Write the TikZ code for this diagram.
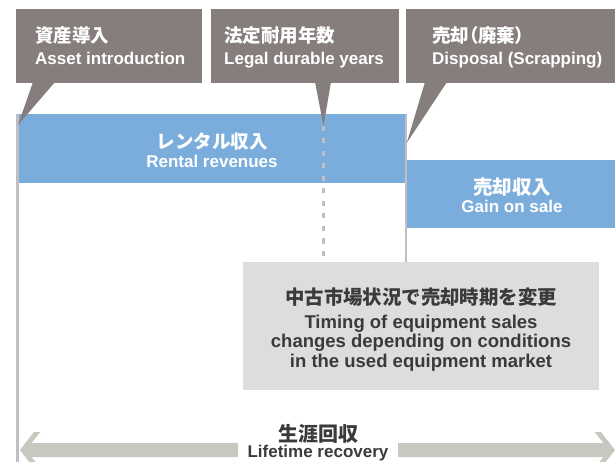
\documentclass[tikz,border=0pt]{standalone}
\usepackage{fontspec}
\setmainfont{Liberation Sans}
\newfontfamily\jp{Noto Sans CJK JP}
\newfontfamily\jpp{Noto Sans CJK JP}[RawFeature=+palt]
\definecolor{calloutgray}{RGB}{134,126,124}
\definecolor{barblue}{RGB}{122,173,219}
\definecolor{boxgray}{RGB}{220,221,222}
\definecolor{linegray}{RGB}{190,190,195}
\definecolor{arrowgray}{RGB}{200,200,192}
\definecolor{darktext}{RGB}{58,58,58}
\begin{document}
\begin{tikzpicture}[x=1pt,y=-1pt,
  calloutbox/.style={fill=calloutgray, draw=none, inner sep=0, anchor=north west},
  bluebar/.style={fill=barblue, draw=none, inner sep=0, anchor=north west},
  infobox/.style={fill=boxgray, draw=none, inner sep=0, anchor=north west},
  vline/.style={draw=linegray, line width=2.6pt},
  dline/.style={draw=linegray, line width=3pt, dash pattern=on 5pt off 7.5pt},
  jpl/.style={font=\jp\bfseries\fontsize{18.5}{20}\selectfont, text=white, inner sep=0, anchor=base west},
  enl/.style={font=\bfseries\fontsize{17}{19}\selectfont, text=white, inner sep=0, anchor=base west},
  jpc/.style={font=\jp\bfseries\fontsize{18.5}{20}\selectfont, text=white, inner sep=0, anchor=base},
  enc/.style={font=\bfseries\fontsize{17}{19}\selectfont, text=white, inner sep=0, anchor=base},
]
\useasboundingbox (0,0) rectangle (615,462);
\clip (0,0) rectangle (615,462);

% bars and boxes
\node[bluebar, minimum width=387pt, minimum height=69pt] (rent) at (18,114) {};
\node[bluebar, minimum width=212pt, minimum height=68pt] (gain) at (406,160) {};
\node[infobox, minimum width=356pt, minimum height=128pt] (info) at (243,262) {};

% vertical lines
\coordinate (l1top) at (17.3,114);
\coordinate (l1bot) at (17.3,462);
\coordinate (l2top) at (406,114);
\coordinate (l2bot) at (406,262);
\coordinate (dtop) at (323.5,126);
\coordinate (dbot) at (323.5,262);
\draw[vline] (l1top) -- (l1bot);
\draw[vline] (l2top) -- (l2bot);
\draw[dline] (dtop) -- (dbot);

% callouts
\node[calloutbox, minimum width=186pt, minimum height=74pt] (c1) at (16,9) {};
\node[calloutbox, minimum width=188pt, minimum height=74pt] (c2) at (211,9) {};
\node[calloutbox, minimum width=215pt, minimum height=74pt] (c3) at (406,9) {};
\fill[calloutgray] (33,82) -- (18,125) -- (55,82) -- cycle;
\fill[calloutgray] (315,82) -- (323.5,126) -- (331,82) -- cycle;
\fill[calloutgray] (425,82) -- (406.7,143) -- (447,82) -- cycle;

\node[jpl] (c1jp) at (35,43) {資産導入};
\node[enl] (c1en) at (35,65) {Asset introduction};
\node[jpl] (c2jp) at (224,43) {法定耐用年数};
\node[enl] (c2en) at (224,65) {Legal durable years};
\node[jpl, font=\jpp\bfseries\fontsize{18.5}{20}\selectfont] (c3jp) at (432,43) {売却（廃棄）};
\node[enl] (c3en) at (432,65) {Disposal (Scrapping)};

% bar texts
\node[jpc] (rentjp) at (212,149) {レンタル収入};
\node[enc] (renten) at (212,168) {Rental revenues};
\node[jpc, font=\jp\bfseries\fontsize{19.5}{21}\selectfont] (gainjp) at (512,194.5) {売却収入};
\node[enc] (gainen) at (512,213) {Gain on sale};

% info texts
\node[jpc, text=darktext, font=\jp\bfseries\fontsize{19.4}{21}\selectfont] (infojp) at (421,304.5) {中古市場状況で売却時期を変更};
\node[enc, text=darktext, font=\bfseries\fontsize{18.5}{20}\selectfont] (infoen1) at (421,328) {Timing of equipment sales};
\node[enc, text=darktext, font=\bfseries\fontsize{18.5}{20}\selectfont] (infoen2) at (421,347.5) {changes depending on conditions};
\node[enc, text=darktext, font=\bfseries\fontsize{18.5}{20}\selectfont] (infoen3) at (421,367) {in the used equipment market};

% lifetime arrow
\fill[arrowgray] (20,450) -- (34,432) -- (40.5,432) -- (31.5,443) -- (238,443) -- (238,457) -- (31.5,457) -- (40.5,468) -- (34,468) -- cycle;
\fill[arrowgray] (398,443) -- (603.5,443) -- (594.5,432) -- (601,432) -- (615,450) -- (601,468) -- (594.5,468) -- (603.5,457) -- (398,457) -- cycle;
\node[jpc, text=darktext, font=\jp\bfseries\fontsize{20}{22}\selectfont] (lifejp) at (318,441.5) {生涯回収};
\node[enc, text=darktext] (lifeen) at (318,457) {Lifetime recovery};
\end{tikzpicture}
\end{document}
